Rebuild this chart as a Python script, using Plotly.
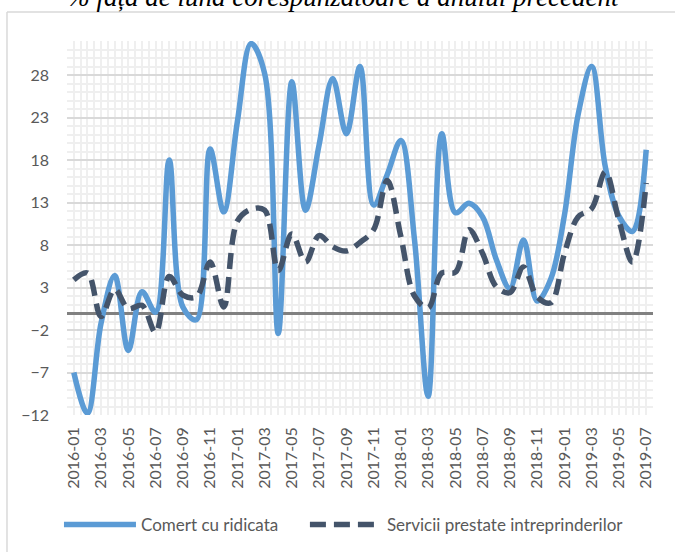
import plotly.graph_objects as go

months = ["2016-01","2016-02","2016-03","2016-04","2016-05","2016-06","2016-07","2016-08","2016-09","2016-10","2016-11","2016-12",
          "2017-01","2017-02","2017-03","2017-04","2017-05","2017-06","2017-07","2017-08","2017-09","2017-10","2017-11","2017-12",
          "2018-01","2018-02","2018-03","2018-04","2018-05","2018-06","2018-07","2018-08","2018-09","2018-10","2018-11","2018-12",
          "2019-01","2019-02","2019-03","2019-04","2019-05","2019-06","2019-07"]

comert = [-7.0, -11.8, -1.2, 4.4, -4.4, 2.5, 0.1, 18.0, 0.7, -0.8, 19.3, 11.9,
          22.5, 31.7, 28.2, -2.4, 27.2, 12.1, 19.8, 27.6, 21.1, 29.0, 12.7, 16.3,
          20.3, 8.6, -9.8, 21.1, 11.8, 12.9, 11.3, 6.3, 2.9, 8.6, 1.4, 4.0,
          11.5, 23.3, 29.0, 17.2, 11.4, 9.6, 19.2]

servicii = [3.9, 4.7, -0.4, 2.8, 0.5, 0.9, -2.3, 4.3, 2.1, 1.9, 6.0, 0.7,
            10.8, 12.2, 12.1, 5.0, 9.3, 6.0, 9.1, 7.8, 7.3, 8.3, 9.8, 15.6,
            9.0, 2.0, 0.6, 4.7, 4.8, 9.8, 7.0, 3.1, 2.4, 5.4, 1.9, 1.2,
            7.0, 11.3, 12.3, 16.6, 10.9, 6.0, 15.3]

series_names = ["Comert cu ridicata", "Servicii prestate intreprinderilor"]
title_text = "% față de luna corespunzătoare a anului precedent"

x = list(range(len(months)))
tick_idx = x[::2]
tick_lab = months[::2]

FONT = "Lato"
TXT = "#595959"

fig = go.Figure()
fig.add_trace(go.Scatter(x=x, y=comert, mode="lines", name=series_names[0], legend="legend",
                         line=dict(color="#5B9BD5", width=5.5, shape="spline", smoothing=1)))
fig.add_trace(go.Scatter(x=x, y=servicii, mode="lines", name=series_names[1], legend="legend2",
                         line=dict(color="#44546A", width=5.5, dash="16px,8px", shape="spline", smoothing=1)))

leg_common = dict(orientation="h", yanchor="middle", y=-0.294, xanchor="left",
                  font=dict(family=FONT, size=17, color=TXT), itemwidth=72, bgcolor="rgba(0,0,0,0)")

fig.update_layout(
    template="none",
    width=675, height=552, autosize=False,
    margin=dict(l=67, r=22, t=41, b=137, autoexpand=False),
    paper_bgcolor="white", plot_bgcolor="white",
    font=dict(family=FONT, size=16, color=TXT),
    title=dict(text="<i>" + title_text + "</i>", font=dict(family="Liberation Serif", size=27, color="black"),
               x=0.508, xanchor="center", xref="container", y=0.989, yanchor="bottom", yref="container"),
    legend=dict(x=-0.0137, **leg_common),
    legend2=dict(x=0.406, **leg_common),
    showlegend=True,
)

fig.update_xaxes(range=[-0.5, len(months) - 0.5], tickmode="array", tickvals=tick_idx, ticktext=tick_lab,
                 tickangle=-90, showgrid=False, zeroline=False, showline=False, ticks="", automargin=False,
                 ticklabelstandoff=8, tickfont=dict(family=FONT, size=16, color=TXT),
                 minor=dict(tick0=-0.5, dtick=0.5, showgrid=True, gridcolor="#efefef", gridwidth=2))
fig.update_yaxes(range=[-12, 32], tick0=-12, dtick=5, showgrid=True, gridcolor="#d9d9d9", gridwidth=1.5,
                 zeroline=True, zerolinecolor="#808080", zerolinewidth=3, showline=False, ticks="", automargin=False,
                 ticklabelstandoff=17, tickfont=dict(family=FONT, size=16, color=TXT),
                 minor=dict(tick0=-12, dtick=1, showgrid=True, gridcolor="#efefef", gridwidth=2))

# outer chart frame (left and top edges visible in reference)
fig.add_shape(type="line", xref="paper", yref="paper", x0=-0.1024, x1=-0.1024, y0=1.0775, y1=-0.37,
              line=dict(color="#d9d9d9", width=1.5))
fig.add_shape(type="line", xref="paper", yref="paper", x0=-0.1024, x1=1.04, y0=1.0775, y1=1.0775,
              line=dict(color="#d9d9d9", width=1.5))

fig.write_html("out.html", config={"displayModeBar": False},
               post_script="document.body.style.margin='0';")
